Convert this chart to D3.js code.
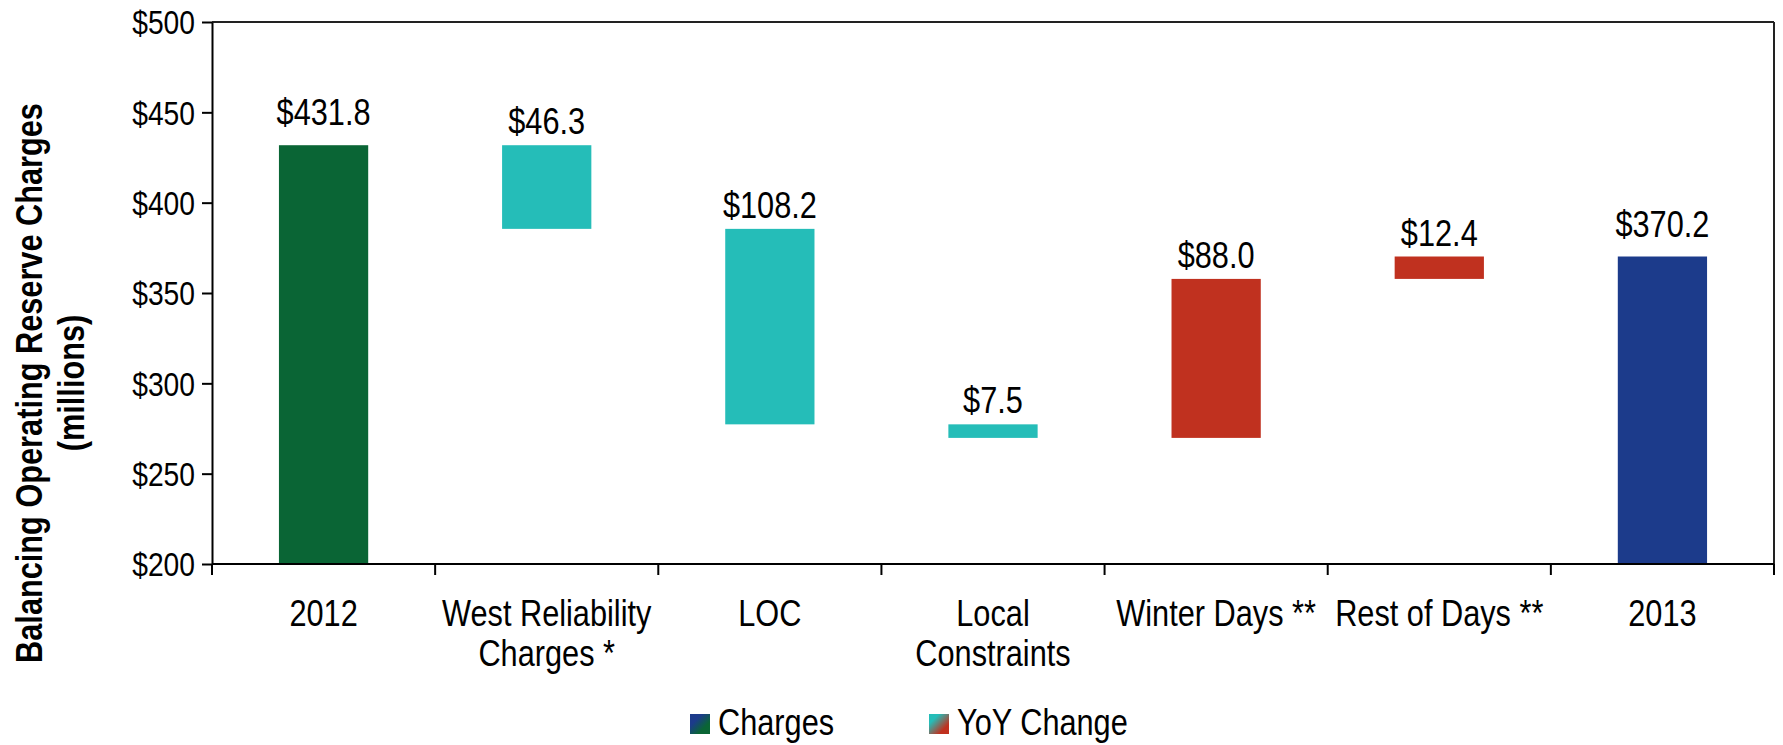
<!DOCTYPE html>
<html>
<head>
<meta charset="utf-8">
<script src="https://cdn.jsdelivr.net/npm/d3@7"></script>
<style>
  html, body { margin: 0; padding: 0; background: #fff; }
  svg { display: block; }
</style>
</head>
<body>
<svg id="chart" width="1783" height="745"></svg>
<script>
// ---- data ----
const categories = ["2012", "West Reliability Charges *", "LOC", "Local Constraints", "Winter Days **", "Rest of Days **", "2013"];
const categoryLines = [["2012"], ["West Reliability", "Charges *"], ["LOC"], ["Local", "Constraints"], ["Winter Days **"], ["Rest of Days **"], ["2013"]];
const changeValues = [431.8, -46.3, -108.2, -7.5, 88.0, 12.4, 370.2];
const barKinds = ["start", "decrease", "decrease", "decrease", "increase", "increase", "end"];
const yTicks = [200, 250, 300, 350, 400, 450, 500];
const yDomain = [200, 500];
const legendItems = ["Charges", "YoY Change"];

(function () {
const colors = { start: "#0a6535", end: "#1c3b8b", decrease: "#25bdb8", increase: "#c0311f" };

// ---- layout ----
const svg = d3.select("#chart");
const pL = 212, pR = 1774, pT = 22, pB = 564;
const font = "'Liberation Sans', Arial, sans-serif";
const NARROW = 0.83;

// emulate a condensed face by squeezing glyphs horizontally
function squeeze(sel, f) {
  sel.each(function () {
    const len = this.getComputedTextLength();
    d3.select(this).attr("textLength", len * f).attr("lengthAdjust", "spacingAndGlyphs");
  });
}

const x = d3.scaleBand().domain(categories).range([pL, pR]).padding(0);
const y = d3.scaleLinear().domain(yDomain).range([pB, pT]);

// compute waterfall segments
let running = 0;
const bars = categories.map((c, i) => {
  const v = changeValues[i], k = barKinds[i];
  let lo, hi;
  if (k === "start" || k === "end") { lo = yDomain[0]; hi = v; running = v; }
  else { const prev = running; running = prev + v; lo = Math.min(prev, running); hi = Math.max(prev, running); }
  return { c, v, k, lo, hi };
});

// bars
const bw = x.bandwidth();
svg.append("g").selectAll("rect").data(bars).join("rect")
  .attr("x", d => x(d.c) + bw * 0.3)
  .attr("width", bw * 0.4)
  .attr("y", d => y(d.hi))
  .attr("height", d => y(d.lo) - y(d.hi))
  .attr("fill", d => colors[d.k]);

// value labels
const vl = svg.append("g").selectAll("text").data(bars).join("text")
  .attr("x", d => x(d.c) + bw / 2)
  .attr("y", d => y(d.hi) - ((d.k === "start" || d.k === "end") ? 20 : 11))
  .attr("text-anchor", "middle")
  .attr("font-family", font)
  .attr("font-size", 37)
  .attr("fill", "#000")
  .text(d => "$" + Math.abs(d.v).toFixed(1));
squeeze(vl, NARROW);

// frame: top and right
svg.append("line").attr("x1", pL).attr("x2", pR).attr("y1", y(yDomain[1])).attr("y2", y(yDomain[1]))
  .attr("stroke", "#222").attr("stroke-width", 2);
svg.append("line").attr("x1", pR).attr("x2", pR).attr("y1", pT).attr("y2", pB)
  .attr("stroke", "#222").attr("stroke-width", 2);

// y axis
const yAxis = svg.append("g").attr("transform", `translate(${pL},0)`)
  .call(d3.axisLeft(y).tickValues(yTicks).tickSize(10).tickSizeOuter(0).tickFormat(d => "$" + d));
yAxis.select(".domain").attr("stroke", "#000").attr("stroke-width", 2);
yAxis.selectAll(".tick line").attr("stroke", "#000").attr("stroke-width", 2);
const yt_ = yAxis.selectAll(".tick text").attr("font-family", font).attr("font-size", 34).attr("fill", "#000")
  .attr("x", -17).attr("dy", "0.35em");
squeeze(yt_, NARROW);

// x axis
const bounds = categories.map(c => x(c)).concat([pR]);
svg.append("line").attr("x1", pL).attr("x2", pR).attr("y1", pB).attr("y2", pB)
  .attr("stroke", "#000").attr("stroke-width", 2);
svg.append("g").selectAll("line").data(bounds).join("line")
  .attr("x1", d => d).attr("x2", d => d).attr("y1", pB).attr("y2", pB + 11)
  .attr("stroke", "#000").attr("stroke-width", 2);
const catData = [];
categories.forEach((c, i) => categoryLines[i].forEach((ln, j) => catData.push({ c, ln, j })));
const cl = svg.append("g").selectAll("text").data(catData).join("text")
  .attr("x", d => x(d.c) + bw / 2)
  .attr("y", d => 626 + d.j * 40)
  .attr("text-anchor", "middle")
  .attr("font-family", font)
  .attr("font-size", 37)
  .attr("fill", "#000")
  .text(d => d.ln);
squeeze(cl, NARROW);

// y title
const titleLines = ["Balancing Operating Reserve Charges", "(millions)"];
const tl = svg.append("g").attr("transform", "translate(0,383) rotate(-90)")
  .selectAll("text").data(titleLines).join("text")
  .attr("x", 0).attr("y", (d, i) => 42 + i * 42)
  .attr("text-anchor", "middle")
  .attr("font-family", font)
  .attr("font-weight", "bold")
  .attr("font-size", 37)
  .attr("fill", "#000")
  .text(d => d);
squeeze(tl, NARROW);

// legend
const defs = svg.append("defs");
const g1 = defs.append("linearGradient").attr("id", "gCharges").attr("x1", "0").attr("y1", "0").attr("x2", "1").attr("y2", "1");
g1.append("stop").attr("offset", "0.3").attr("stop-color", colors.end);
g1.append("stop").attr("offset", "0.7").attr("stop-color", colors.start);
const g2 = defs.append("linearGradient").attr("id", "gYoY").attr("x1", "0").attr("y1", "0").attr("x2", "1").attr("y2", "1");
g2.append("stop").attr("offset", "0.25").attr("stop-color", colors.decrease);
g2.append("stop").attr("offset", "0.75").attr("stop-color", colors.increase);
const legX = [690, 929];
const legFill = ["url(#gCharges)", "url(#gYoY)"];
const leg = svg.append("g").selectAll("g").data(legendItems).join("g")
  .attr("transform", (d, i) => `translate(${legX[i]},714)`);
leg.append("rect").attr("width", 20).attr("height", 20).attr("fill", (d, i) => legFill[i]);
const lt = leg.append("text").attr("x", 28).attr("y", 21)
  .attr("font-family", font).attr("font-size", 37).attr("fill", "#000").text(d => d);
squeeze(lt, NARROW);
})();
</script>
</body>
</html>
